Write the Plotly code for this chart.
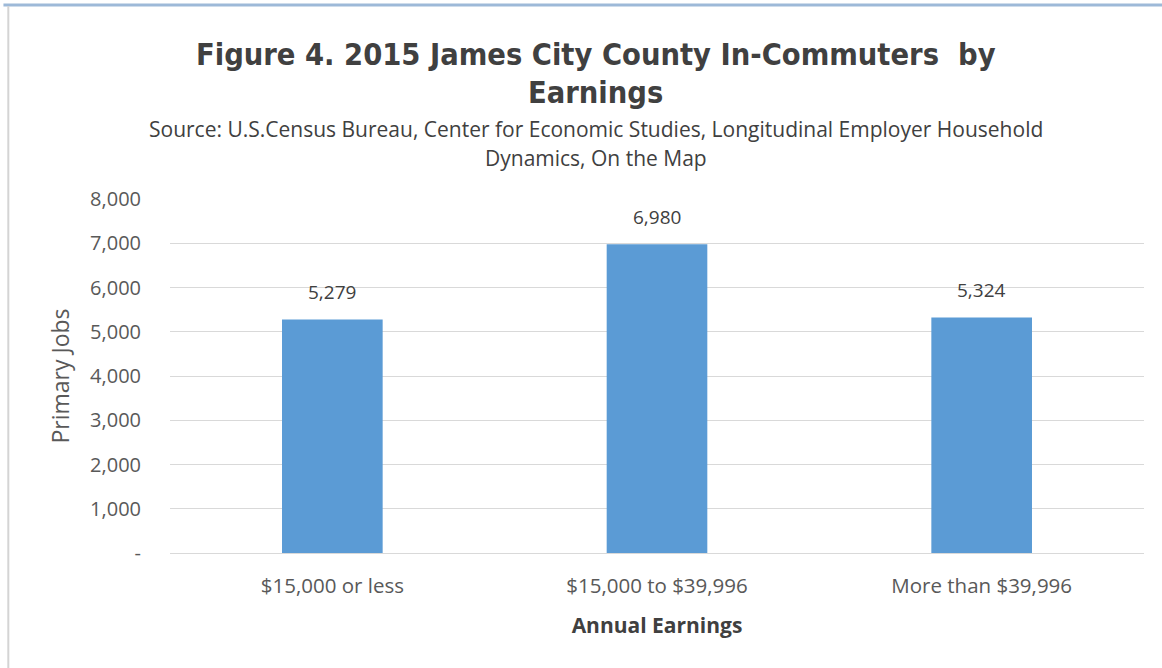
import plotly.graph_objects as go

categories = ["$15,000 or less", "$15,000 to $39,996", "More than $39,996"]
primary_jobs = [5279, 6980, 5324]
y_tick_values = [0, 1000, 2000, 3000, 4000, 5000, 6000, 7000, 8000]
y_tick_labels = ["-", "1,000", "2,000", "3,000", "4,000", "5,000", "6,000", "7,000", "8,000"]

BAR_BLUE = "#5B9BD5"
TEXT_GREY = "#595959"
BODY_FONT = "Open Sans"
HEAD_X = 0.437

fig = go.Figure()
fig.add_trace(go.Bar(
    x=categories,
    y=primary_jobs,
    marker=dict(color=BAR_BLUE, line=dict(width=0)),
    width=0.31,
    hoverinfo="x+y",
))

# value labels sitting above each bar
for cat, val in zip(categories, primary_jobs):
    fig.add_annotation(
        x=cat, y=val, xref="x", yref="y",
        text=f"{val:,}", showarrow=False,
        yanchor="bottom", yshift=12,
        font=dict(family=BODY_FONT, size=19, color="#404040"),
    )

# heading and source lines
fig.add_annotation(
    x=HEAD_X, y=1.407, xref="paper", yref="paper",
    text="<b>Figure 4. 2015 James City County In-Commuters  by</b>",
    showarrow=False, xanchor="center", yanchor="middle",
    font=dict(family="DejaVu Sans Condensed", size=30.5, color="#404040"),
)
fig.add_annotation(
    x=HEAD_X, y=1.30, xref="paper", yref="paper",
    text="<b>Earnings</b>",
    showarrow=False, xanchor="center", yanchor="middle",
    font=dict(family="DejaVu Sans Condensed", size=30.5, color="#404040"),
)
fig.add_annotation(
    x=HEAD_X, y=1.197, xref="paper", yref="paper",
    text="Source: U.S.Census Bureau, Center for Economic Studies, Longitudinal Employer Household",
    showarrow=False, xanchor="center", yanchor="middle",
    font=dict(family=BODY_FONT, size=21, color="#404040"),
)
fig.add_annotation(
    x=HEAD_X, y=1.116, xref="paper", yref="paper",
    text="Dynamics, On the Map",
    showarrow=False, xanchor="center", yanchor="middle",
    font=dict(family=BODY_FONT, size=21, color="#404040"),
)

# outer frame: blue rule on top, grey rule on the left
fig.add_shape(type="line", xref="paper", yref="paper",
              x0=-0.171, x1=1.02, y0=1.548, y1=1.548,
              line=dict(color="#9DB9D8", width=3))
fig.add_shape(type="line", xref="paper", yref="paper",
              x0=-0.166, x1=-0.166, y0=-0.33, y1=1.545,
              line=dict(color="#D4D4D4", width=2))

fig.update_layout(
    width=1162, height=668,
    margin=dict(l=170, r=18, t=199, b=115),
    paper_bgcolor="white", plot_bgcolor="white",
    showlegend=False,
    bargap=0.69,
    xaxis=dict(
        showgrid=False, showline=False, ticks="", ticklabelstandoff=18,
        tickfont=dict(family=BODY_FONT, size=20.5, color=TEXT_GREY),
        title=dict(text="<b>Annual Earnings</b>", standoff=20,
                   font=dict(family=BODY_FONT, size=21, color="#404040")),
    ),
    yaxis=dict(
        range=[0, 8000],
        tickvals=y_tick_values, ticktext=y_tick_labels,
        showgrid=True, gridcolor="#D9D9D9", gridwidth=1,
        zeroline=True, zerolinecolor="#D9D9D9", zerolinewidth=1,
        showline=False, ticks="", ticklabelstandoff=28,
        tickfont=dict(family=BODY_FONT, size=20, color=TEXT_GREY),
        title=dict(text="Primary Jobs", standoff=14,
                   font=dict(family=BODY_FONT, size=23, color=TEXT_GREY)),
    ),
)

fig.write_html("out.html")
